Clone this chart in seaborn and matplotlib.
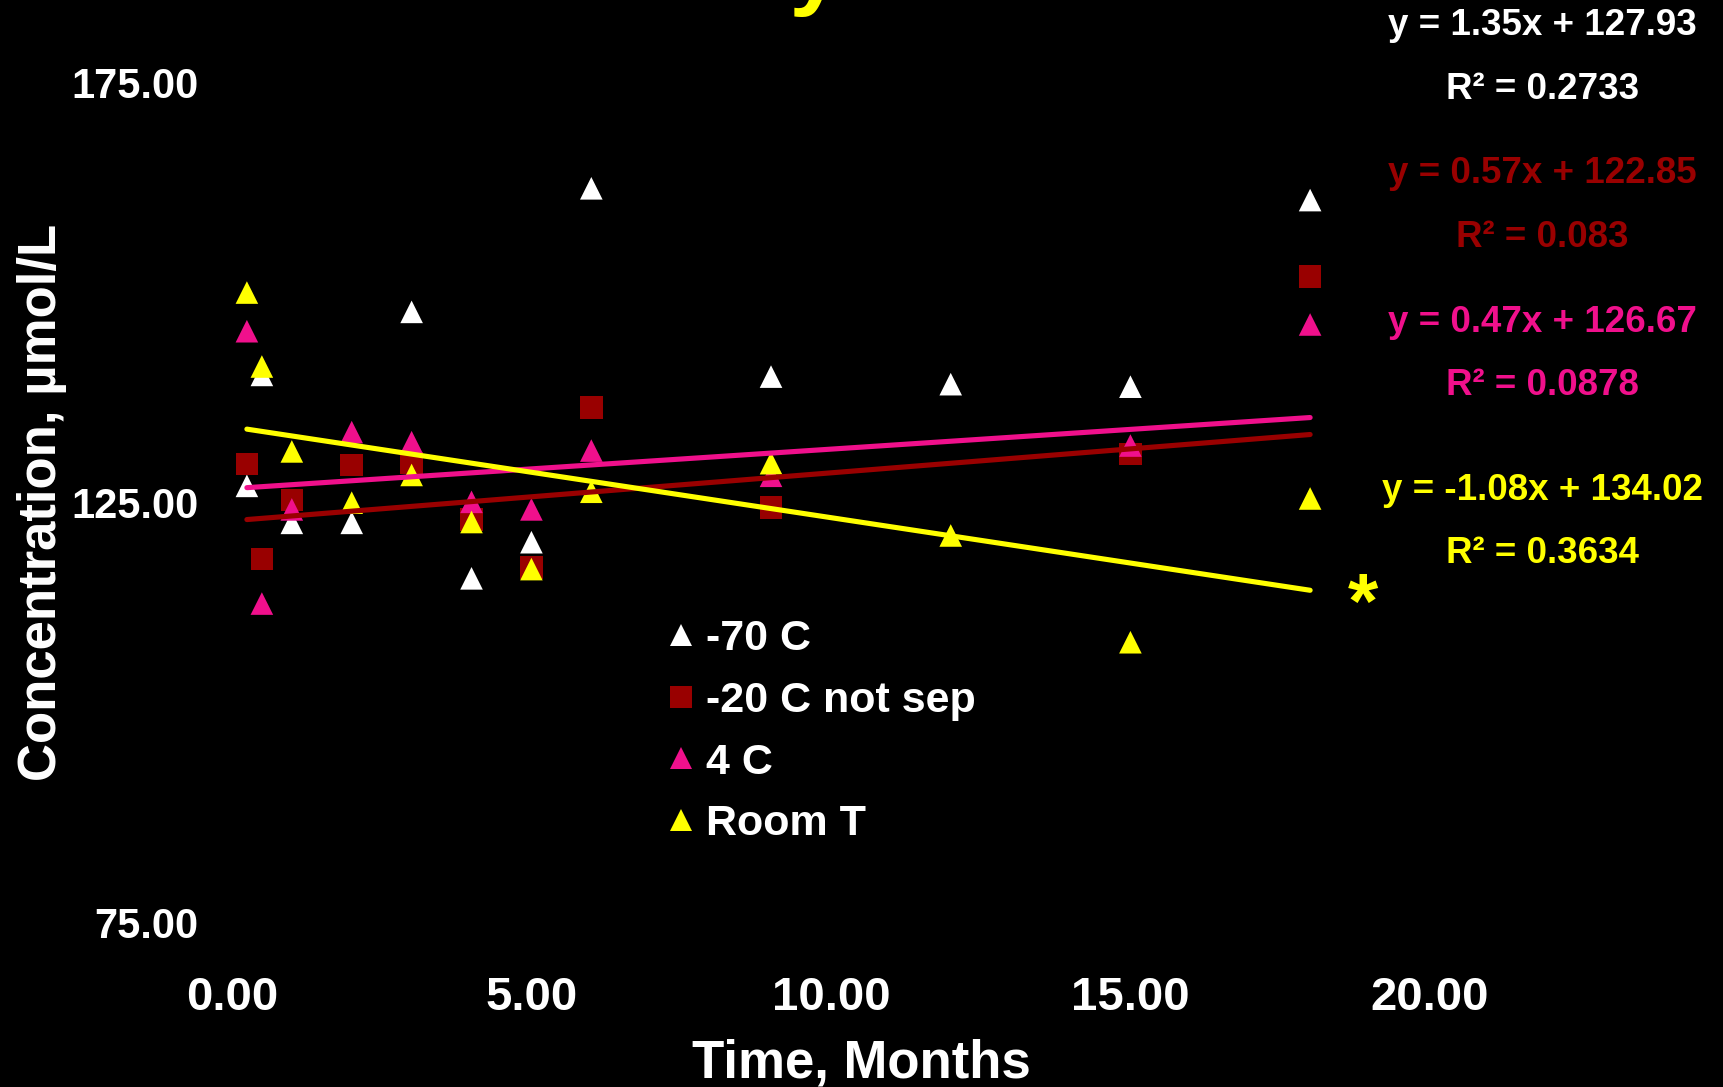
import numpy as np
import pandas as pd
import matplotlib
matplotlib.use("Agg")
import matplotlib.pyplot as plt
from matplotlib.lines import Line2D
import seaborn as sns

# storage time, months
months = [0.25, 0.5, 1, 2, 3, 4, 5, 6, 9, 12, 15, 18]

# concentration, umol/L for each storage condition (nan = no sample)
minus70 = [127.0, 140.2, 122.6, 122.6, 147.7, 116.0, 120.3, 162.4, 140.0, 139.1, 138.8, 161.0]
minus20_not_sep = [129.6, 118.3, 125.3, 129.5, 129.7, 123.0, 117.3, 136.3, 124.4, np.nan, 130.8, 151.9]
four_c = [145.4, 113.0, 124.2, 133.4, 132.2, 125.1, 124.2, 131.2, 128.2, np.nan, 131.8, 146.2]
room_t = [150.0, 141.2, 131.1, 125.0, 128.3, 122.7, 117.1, 126.3, 129.7, 121.1, 108.4, 125.5]

series_names = ["-70 C", "-20 C not sep", "4 C", "Room T"]
series_colors = ["#FFFFFF", "#990000", "#F0108C", "#FFFF00"]
series_markers = ["^", "s", "^", "^"]

# excel trendlines
slopes = [1.35, 0.57, 0.47, -1.08]
intercepts = [127.93, 122.85, 126.67, 134.02]
r_squared = ["0.2733", "0.083", "0.0878", "0.3634"]
trend_drawn = [False, True, True, True]

x_ticks = [0, 5, 10, 15, 20]
y_ticks = [75, 125, 175]

df = pd.DataFrame({
    "month": months * 4,
    "conc": minus70 + minus20_not_sep + four_c + room_t,
    "series": np.repeat(series_names, len(months)),
})

# trendline from first to last time point
trend_rows = []
for name, m, b, drawn in zip(series_names, slopes, intercepts, trend_drawn):
    if not drawn:
        continue
    for x in [months[0], months[-1]]:
        trend_rows.append({"month": x, "fit": m * x + b, "series": name})
trend_df = pd.DataFrame(trend_rows)

palette = dict(zip(series_names, series_colors))
markers = dict(zip(series_names, series_markers))

sns.set_style("dark", rc={"axes.facecolor": "black", "figure.facecolor": "black"})
plt.rcParams["font.family"] = ["Liberation Sans", "DejaVu Sans"]
plt.rcParams["font.weight"] = "bold"

W, H = 1723, 1087
fig = plt.figure(figsize=(W / 100, H / 100), dpi=100)
ax = fig.add_axes([0.1346, 0.1509, 0.6953, 0.7733])

sns.scatterplot(data=df, x="month", y="conc", hue="series", style="series",
                palette=palette, markers=markers, s=265, linewidth=0,
                legend=False, ax=ax, zorder=2)
sns.lineplot(data=trend_df, x="month", y="fit", hue="series",
             palette={k: palette[k] for k in trend_df["series"].unique()},
             linewidth=3.7, legend=False, sort=False, ax=ax, zorder=3,
             solid_capstyle="round")

ax.set_xlim(0, 20)
ax.set_ylim(75, 175)
ax.set_xticks(x_ticks)
ax.set_xticklabels([f"{v:.2f}" for v in x_ticks], fontsize=34, fontweight="bold", color="white")
ax.set_yticks(y_ticks)
ax.set_yticklabels([f"{v:.2f}" for v in y_ticks], fontsize=30, fontweight="bold", color="white")
ax.tick_params(axis="x", length=0, pad=38)
ax.tick_params(axis="y", length=0, pad=24)
ax.grid(False)
for sp in ax.spines.values():
    sp.set_visible(False)

ax.set_xlabel("Time, Months", fontsize=38, fontweight="bold", color="white")
ax.xaxis.set_label_coords(0.5255, -0.138)
ax.set_ylabel("Concentration, µmol/L", fontsize=38, fontweight="bold", color="white")
ax.yaxis.set_label_coords(-0.1376, 0.5)

# legend
handles = [Line2D([], [], linestyle="none", marker=mk, color=c, markersize=16, markeredgewidth=0)
           for mk, c in zip(series_markers, series_colors)]
leg = ax.legend(handles, series_names, loc="upper left", bbox_to_anchor=(0.373, 0.4499),
                bbox_transform=fig.transFigure, frameon=False, fontsize=31,
                handlelength=0.8, handletextpad=0.18, labelspacing=0.5, borderpad=0)
for t in leg.get_texts():
    t.set_color("white")
    t.set_fontweight("bold")

# trendline equations on the right
eq_base = [35, 183.3, 331.7, 500]
r2_base = [99.3, 246.7, 395, 563.3]
for m, b, r2, c, yb, yr in zip(slopes, intercepts, r_squared, series_colors, eq_base, r2_base):
    fig.text(0.895, 1 - yb / H, f"y = {m:.2f}x + {b:.2f}", ha="center", va="baseline",
             fontsize=26.5, fontweight="bold", color=c)
    fig.text(0.895, 1 - yr / H, f"R² = {r2}", ha="center", va="baseline",
             fontsize=26.5, fontweight="bold", color=c)

fig.text(1363 / W, 1 - 628 / H, "*", ha="center", va="baseline",
         fontsize=56, fontweight="bold", color="#FFFF00")

# title sits above the visible area, only the tail of the y shows
fig.text(842 / W, 1 + 3 / H, "Stability", ha="right", va="baseline",
         fontsize=68, fontweight="bold", color="#FFFF00")

fig.savefig("out.png", dpi=100, facecolor="black")
